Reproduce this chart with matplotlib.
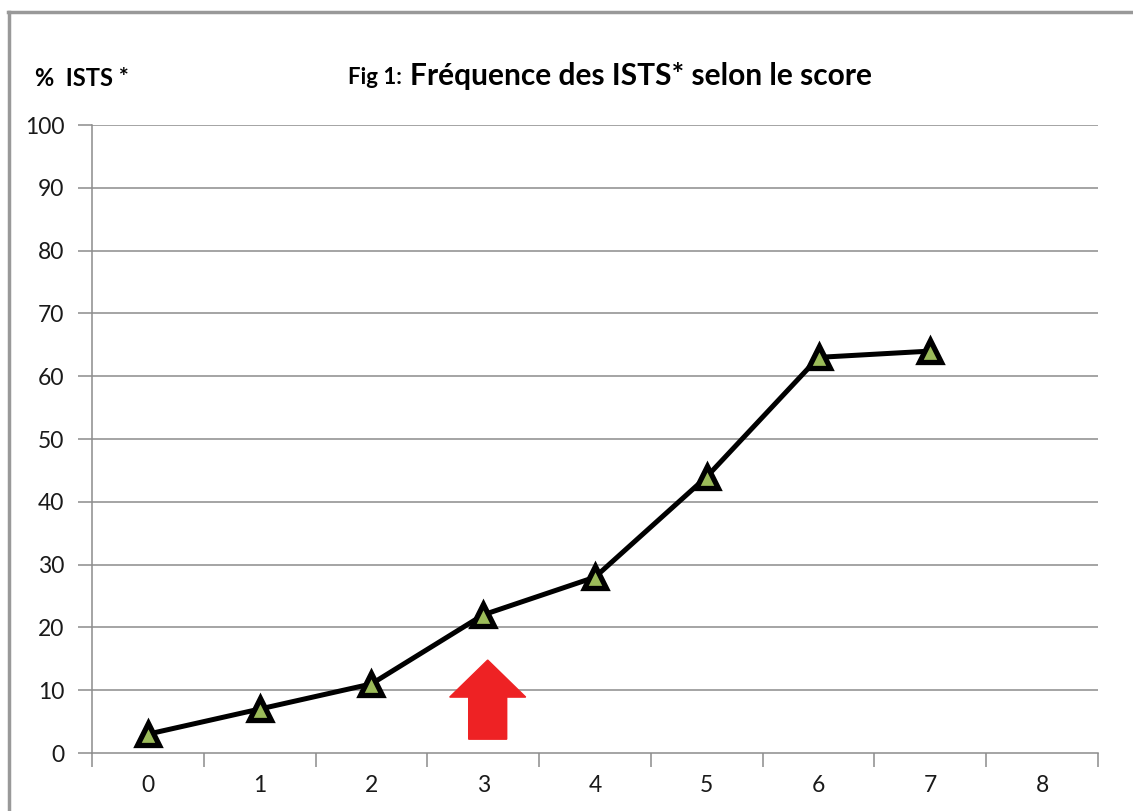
import matplotlib.pyplot as plt
from matplotlib.patches import FancyArrow
from matplotlib.lines import Line2D

# data
scores = [0, 1, 2, 3, 4, 5, 6, 7]
freq_ists = [3, 7, 11, 22, 28, 44, 63, 64]
x_labels = ["0", "1", "2", "3", "4", "5", "6", "7", "8"]
y_ticks = [0, 10, 20, 30, 40, 50, 60, 70, 80, 90, 100]

plt.rcParams['font.family'] = ['Lato', 'DejaVu Sans']

fig = plt.figure(figsize=(11.33, 8.11), dpi=100)
ax = fig.add_axes([92 / 1133, 1 - 753 / 811, (1098 - 92) / 1133, (753 - 125) / 811])

grid_col = "#8c8c8c"
for y in y_ticks[1:]:
    ax.axhline(y, color=grid_col, lw=1.1, zorder=0)

ax.plot(scores, freq_ists, color="black", lw=3.6, marker="^", markersize=16,
        markerfacecolor="#9bbb59", markeredgecolor="black", markeredgewidth=3.8,
        zorder=3)

# red arrow under score 3
ax.add_patch(FancyArrow(3.04, 2.2, 0, 12.6, width=0.34, head_width=0.68,
                        head_length=5.9, length_includes_head=True,
                        color="#ee2224", zorder=4))

ax.set_xlim(-0.5, 8.5)
ax.set_ylim(0, 100)
ax.set_xticks(range(9))
ax.set_xticklabels(x_labels)
ax.set_xticks([i - 0.5 for i in range(10)], minor=True)
ax.set_yticks(y_ticks)
ax.tick_params(axis="x", which="major", length=0, pad=16, labelsize=16.5, colors="#1a1a1a")
ax.tick_params(axis="x", which="minor", length=10, color=grid_col, width=1.1)
ax.tick_params(axis="y", length=10, color=grid_col, width=1.1, pad=10,
               labelsize=16.5, labelcolor="#1a1a1a")

for s in ["top", "right"]:
    ax.spines[s].set_visible(False)
for s in ["left", "bottom"]:
    ax.spines[s].set_color(grid_col)
    ax.spines[s].set_linewidth(1.1)

fig.text(35 / 1133, 1 - 78 / 811, "%  ISTS *", fontsize=17, fontweight="bold",
         va="center", ha="left")
fig.text(348 / 1133, 1 - 78 / 811, "Fig 1:", fontsize=16, fontweight="bold",
         va="center", ha="left")
fig.text(410 / 1133, 1 - 76 / 811, "Fréquence des ISTS* selon le score",
         fontsize=21.5, fontweight="bold", va="center", ha="left")

# outer border (left and top)
fig.add_artist(Line2D([9 / 1133, 9 / 1133], [0, 1 - 12 / 811], color="#999999", lw=2.5,
                      transform=fig.transFigure))
fig.add_artist(Line2D([8 / 1133, 1], [1 - 12 / 811, 1 - 12 / 811], color="#999999", lw=2.5,
                      transform=fig.transFigure))

fig.savefig("out.png", dpi=100)
